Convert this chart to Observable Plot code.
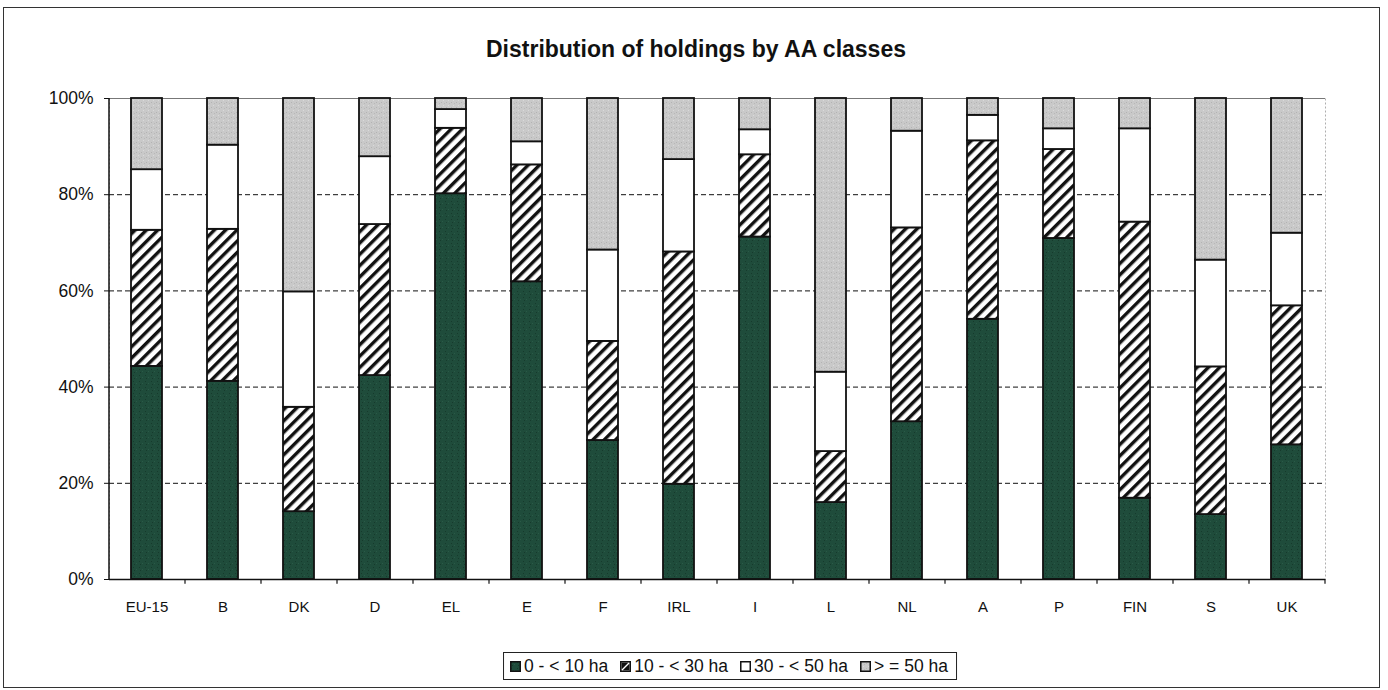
<!DOCTYPE html>
<html>
<head>
<meta charset="utf-8">
<script src="https://cdn.jsdelivr.net/npm/d3@7"></script>
<script src="https://cdn.jsdelivr.net/npm/@observablehq/plot@0.6"></script>
<style>
  html, body { margin: 0; padding: 0; background: #fff; }
  body { width: 1388px; height: 690px; position: relative; overflow: hidden; font-family: "Liberation Sans", Arial, sans-serif; }
  #frame { position: absolute; left: 3px; top: 7px; width: 1375px; height: 679px; border: 1.5px solid #333; }
  #title { position: absolute; left: 0; width: 1392px; top: 35px; text-align: center; font-weight: bold; font-size: 23px; line-height: 28px; color: #111; }
  #chart { position: absolute; left: 0; top: 80px; }
  #legend { position: absolute; top: 652px; left: 730px; transform: translateX(-50%); border: 1px solid #222; padding: 3px 8px 3px 6px; display: flex; align-items: center; font-size: 17.5px; line-height: 20px; color: #111; white-space: nowrap; }
  #legend .item { display: flex; align-items: center; margin-right: 12px; }
  #legend .item:last-child { margin-right: 0; }
  #legend svg { margin-right: 3px; }
</style>
</head>
<body>
<div id="frame"></div>
<div id="title">Distribution of holdings by AA classes</div>
<div id="chart"></div>
<div id="legend"></div>
<script>
const countries = ["EU-15","B","DK","D","EL","E","F","IRL","I","L","NL","A","P","FIN","S","UK"];
const classes = ["0 - < 10 ha","10 - < 30 ha","30 - < 50 ha","> = 50 ha"];
const tickLabels = [0, 20, 40, 60, 80, 100];
// shares (%) per class, in country order
const under10    = [44.3, 41.2, 14.1, 42.4, 80.2, 61.9, 28.9, 19.8, 71.2, 16.0, 32.8, 54.1, 70.9, 16.9, 13.5, 28.0];
const from10to30 = [28.3, 31.6, 21.7, 31.4, 13.6, 24.3, 20.6, 48.3, 17.1, 10.6, 40.3, 37.1, 18.5, 57.4, 30.7, 28.9];
const from30to50 = [12.6, 17.5, 24.0, 14.1,  3.9,  4.8, 19.0, 19.2,  5.2, 16.5, 20.1,  5.3,  4.3, 19.4, 22.2, 15.1];
const over50     = [14.8,  9.7, 40.2, 12.1,  2.3,  9.0, 31.5, 12.7,  6.5, 56.9,  6.8,  3.5,  6.3,  6.3, 33.6, 28.0];

const series = [under10, from10to30, from30to50, over50];
const fills = ["url(#pGreen)", "url(#pHatch)", "#ffffff", "url(#pGray)"];

const rows = countries.flatMap((c, i) => classes.map((k, j) => ({country: c, cls: k, value: series[j][i]})));

const W = 1388, H = 540, mL = 109, mR = 63, mT = 18, mB = 41;
const step = (W - mL - mR) / countries.length;

const svg = Plot.plot({
  width: W, height: H,
  marginTop: mT, marginBottom: mB, marginLeft: mL, marginRight: mR,
  style: {fontFamily: "'Liberation Sans', Arial, sans-serif", background: "transparent", color: "#111", overflow: "visible"},
  x: {domain: countries, paddingInner: 0.59, paddingOuter: 0.295, label: null},
  y: {domain: [0, 100], label: null},
  color: {domain: classes, range: fills},
  marks: [
    Plot.frame({stroke: "#999", strokeDasharray: "2,2", strokeWidth: 0.8}),
    Plot.ruleY([20, 40, 60, 80], {stroke: "#111", strokeWidth: 1, strokeDasharray: "5,3"}),
    Plot.ruleY([100], {stroke: "#777", strokeWidth: 1}),
    Plot.barY(rows, {x: "country", y: "value", fill: "cls", stroke: "#111", strokeWidth: 1.8}),
    Plot.ruleY([0], {stroke: "#111", strokeWidth: 1.5}),
    Plot.ruleX(countries.slice(0, 1), {x: d => d, dx: -step / 2, stroke: "#111", strokeWidth: 1.5}),
    Plot.ruleX(countries, {x: d => d, dx: step / 2, y1: 0, y2: -1, stroke: "#111", strokeWidth: 1.2}),
    Plot.axisY({ticks: tickLabels, tickFormat: d => d + "%", tickSize: 5, tickPadding: 11, fontSize: 17.5, stroke: "#111"}),
    Plot.axisX({tickSize: 0, tickPadding: 22, fontSize: 15})
  ]
});

const defs = d3.select(svg).insert("defs", ":first-child");
// green speckled fill
const g = defs.append("pattern").attr("id", "pGreen").attr("patternUnits", "userSpaceOnUse").attr("width", 6).attr("height", 6);
g.append("rect").attr("width", 6).attr("height", 6).attr("fill", "#1f4c3b");
g.append("rect").attr("x", 1).attr("y", 1).attr("width", 1).attr("height", 1).attr("fill", "#163a2c");
g.append("rect").attr("x", 4).attr("y", 3).attr("width", 1).attr("height", 1).attr("fill", "#2a5a47");
g.append("rect").attr("x", 2).attr("y", 4).attr("width", 1).attr("height", 1).attr("fill", "#163a2c");
// hatch
const h = defs.append("pattern").attr("id", "pHatch").attr("patternUnits", "userSpaceOnUse").attr("width", 8).attr("height", 8).attr("patternTransform", "rotate(45)");
h.append("rect").attr("width", 8).attr("height", 8).attr("fill", "#fff");
h.append("rect").attr("width", 3.4).attr("height", 8).attr("fill", "#111");
// gray speckled
const gr = defs.append("pattern").attr("id", "pGray").attr("patternUnits", "userSpaceOnUse").attr("width", 5).attr("height", 5);
gr.append("rect").attr("width", 5).attr("height", 5).attr("fill", "#c9c9c9");
gr.append("rect").attr("x", 1).attr("y", 2).attr("width", 1).attr("height", 1).attr("fill", "#b3b3b3");
gr.append("rect").attr("x", 3).attr("y", 0).attr("width", 1).attr("height", 1).attr("fill", "#dadada");
gr.append("rect").attr("x", 4).attr("y", 3).attr("width", 1).attr("height", 1).attr("fill", "#b8b8b8");

document.getElementById("chart").appendChild(svg);

const legend = d3.select("#legend");
classes.forEach((k, j) => {
  const item = legend.append("div").attr("class", "item");
  const s = item.append("svg").attr("width", 11).attr("height", 11);
  s.append("rect").attr("x", 0.75).attr("y", 0.75).attr("width", 9.5).attr("height", 9.5)
    .attr("fill", j === 1 ? "#fff" : fills[j]).attr("stroke", "#111").attr("stroke-width", 1.5);
  if (j === 1) {
    s.append("rect").attr("x", 1.5).attr("y", 1.5).attr("width", 8).attr("height", 8).attr("fill", "#111");
    s.append("line").attr("x1", 2).attr("y1", 9).attr("x2", 9).attr("y2", 2).attr("stroke", "#fff").attr("stroke-width", 1.3);
  }
  item.append("span").text(k);
});
</script>
</body>
</html>
